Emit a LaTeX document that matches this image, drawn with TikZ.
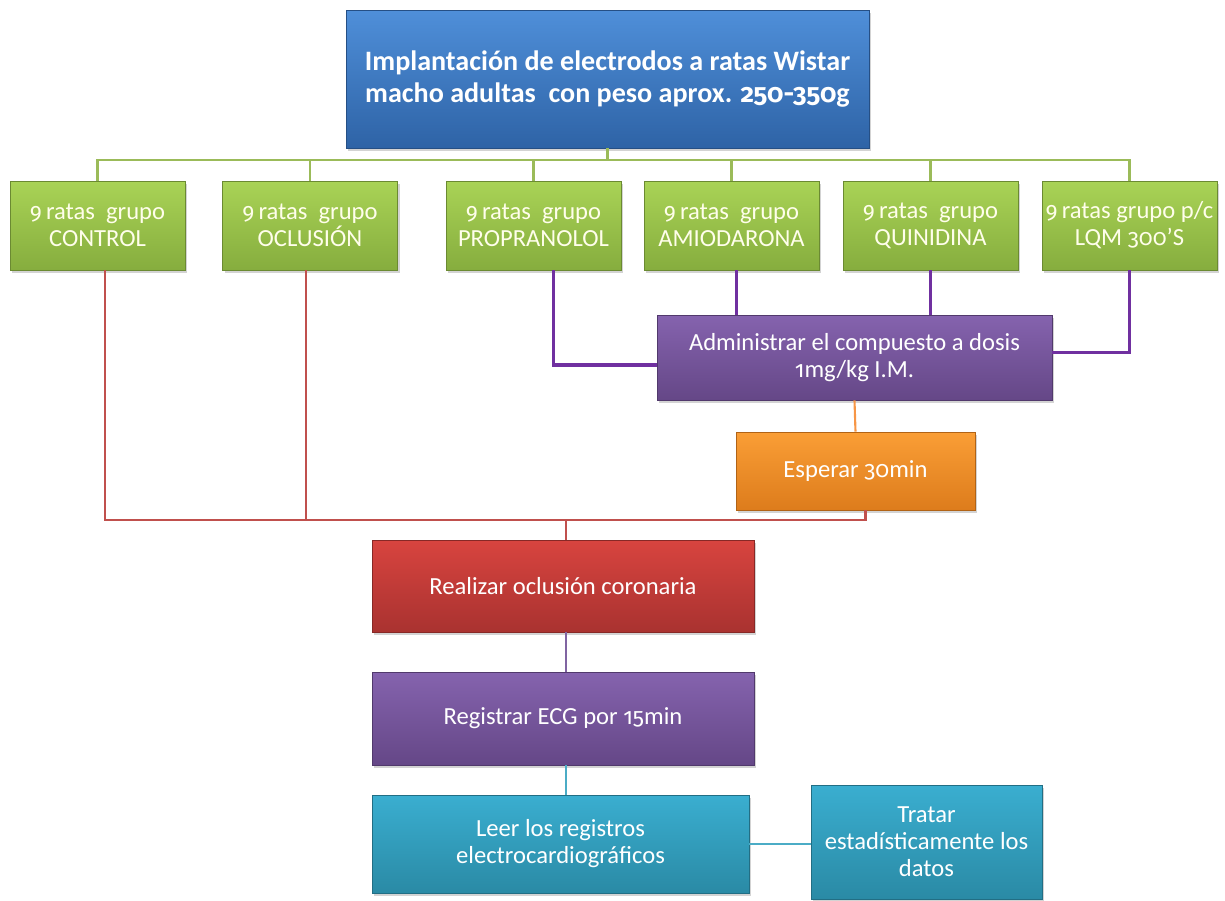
\documentclass[tikz,border=0pt]{standalone}
\usepackage{fontspec}
\setmainfont{Carlito}
\newfontfamily\osf[Numbers=OldStyle,Scale=0.93]{Fira Sans}
\usetikzlibrary{calc,shadows}

\definecolor{blueT}{HTML}{4F8FD9}
\definecolor{blueB}{HTML}{2E63A6}
\definecolor{greenT}{HTML}{A9D356}
\definecolor{greenB}{HTML}{86AD3E}
\definecolor{violT}{HTML}{8563AE}
\definecolor{violB}{HTML}{654787}
\definecolor{orangeT}{HTML}{FA9E36}
\definecolor{orangeB}{HTML}{DD7C1C}
\definecolor{redT}{HTML}{D8443F}
\definecolor{redB}{HTML}{A93230}
\definecolor{cyanT}{HTML}{3AAED0}
\definecolor{cyanB}{HTML}{2A8AA5}
\definecolor{lnGreen}{HTML}{9BBB59}
\definecolor{lnRed}{HTML}{C0504D}
\definecolor{lnViol}{HTML}{7030A0}
\definecolor{lnLila}{HTML}{8064A2}
\definecolor{lnOrange}{HTML}{F79646}
\definecolor{lnCyan}{HTML}{4BACC6}

\newcommand{\num}[1]{{\osf #1}}

\begin{document}
\begin{tikzpicture}[
    x=0.02cm,
    y=-0.02cm,
    card/.style={rectangle, align=center, text=white, inner sep=1pt, drop shadow={shadow xshift=1.2pt, shadow yshift=-1.6pt, opacity=0.35}, font=\fontsize{14}{15.3}\selectfont},
    head/.style={card, draw=blueB!80!black, top color=blueT, bottom color=blueB, minimum width=10.46cm, minimum height=2.76cm, font=\fontsize{16}{18.2}\selectfont\bfseries},
    grp/.style={card, draw=greenB!80!black, top color=greenT, bottom color=greenB, text=white!92!yellow, minimum width=3.5cm, minimum height=1.78cm},
    lilabox/.style={card, draw=violB!80!black, top color=violT, bottom color=violB},
    orgbox/.style={card, draw=orangeB!80!black, top color=orangeT, bottom color=orangeB},
    redbox/.style={card, draw=redB!80!black, top color=redT, bottom color=redB},
    cyanbox/.style={card, draw=cyanB!80!black, top color=cyanT, bottom color=cyanB},
    gline/.style={draw=lnGreen, line width=1.4pt},
    pline/.style={draw=lnViol, line width=2pt},
    rline/.style={draw=lnRed, line width=1.7pt},
    thin/.style={line width=1.2pt}
]
\useasboundingbox (0,0) rectangle (1225,901);

\node[head] (top) at (607.5,79) {Implantación de electrodos a ratas Wistar\\macho adultas \ con peso aprox. \num{250-350}g};

\node[grp] (ctrl) at (97.5,225.5) {\num{9}\,ratas \ grupo\\CONTROL};
\node[grp] (occ) at (310,225.5) {\num{9}\,ratas \ grupo\\OCLUSIÓN};
\node[grp] (prop) at (533.5,225.5) {\num{9}\,ratas \ grupo\\PROPRANOLOL};
\node[grp] (amio) at (731.5,225.5) {\num{9}\,ratas \ grupo\\AMIODARONA};
\node[grp] (quin) at (930.5,225.5) {\num{9}\,ratas \ grupo\\QUINIDINA};
\node[grp] (lqm) at (1129.5,225.5) {\num{9}\,ratas grupo p/c\\LQM \num{300}'S};

\node[lilabox, minimum width=7.9cm, minimum height=1.7cm] (admin) at (854.5,357.5) {Administrar el compuesto a dosis\\\num{1}mg/kg I.M.};
\node[orgbox, minimum width=4.78cm, minimum height=1.56cm] (wait) at (855.5,471) {Esperar \num{30}min};
\node[redbox, minimum width=7.64cm, minimum height=1.84cm] (occl) at (563,586) {Realizar oclusión coronaria};
\node[lilabox, minimum width=7.64cm, minimum height=1.86cm] (ecg) at (563,718.5) {Registrar ECG por \num{15}min};
\node[cyanbox, minimum width=7.54cm, minimum height=1.96cm] (read) at (560.5,844) {Leer los registros\\electrocardiográficos};
\node[cyanbox, minimum width=4.62cm, minimum height=2.28cm] (stats) at (926.5,842) {Tratar\\estadísticamente los\\datos};

% green bus under the head box
\coordinate (gbus) at (0,160);
\foreach \g in {ctrl,occ,prop,amio,quin,lqm}
  \draw[gline] (top.south) -- (top.south |- gbus) -| (\g.north);

% treated groups go to the dose box
\draw[pline] ([xshift=0.4cm]prop.south) |- ([yshift=-0.15cm]admin.west);
\draw[pline] ([xshift=0.1cm]amio.south) -- ([xshift=0.1cm]amio.south |- admin.north);
\draw[pline] (quin.south) -- (quin.south |- admin.north);
\draw[pline] (lqm.south) |- ([yshift=0.1cm]admin.east);
\draw[draw=lnOrange, thin] (admin.south) -- (wait.north);

% red bus above the occlusion box
\coordinate (rbus) at (0,520);
\draw[rline] ([xshift=0.15cm]ctrl.south) -- ([xshift=0.15cm]ctrl.south |- rbus) -| ([xshift=0.2cm]wait.south);
\draw[rline] ([xshift=-0.08cm]occ.south) -- ([xshift=-0.08cm]occ.south |- rbus);
\draw[rline] ([xshift=0.06cm]occl.north) -- ([xshift=0.06cm]occl.north |- rbus);

\draw[draw=lnLila, thin] ([xshift=0.06cm]occl.south) -- ([xshift=0.06cm]ecg.north);
\draw[draw=lnCyan, line width=1.5pt] ([xshift=0.06cm]ecg.south) -- ([xshift=0.06cm]ecg.south |- read.north);
\draw[draw=lnCyan, line width=1.5pt] (read.east) -- (read.east -| stats.west);
\end{tikzpicture}
\end{document}
